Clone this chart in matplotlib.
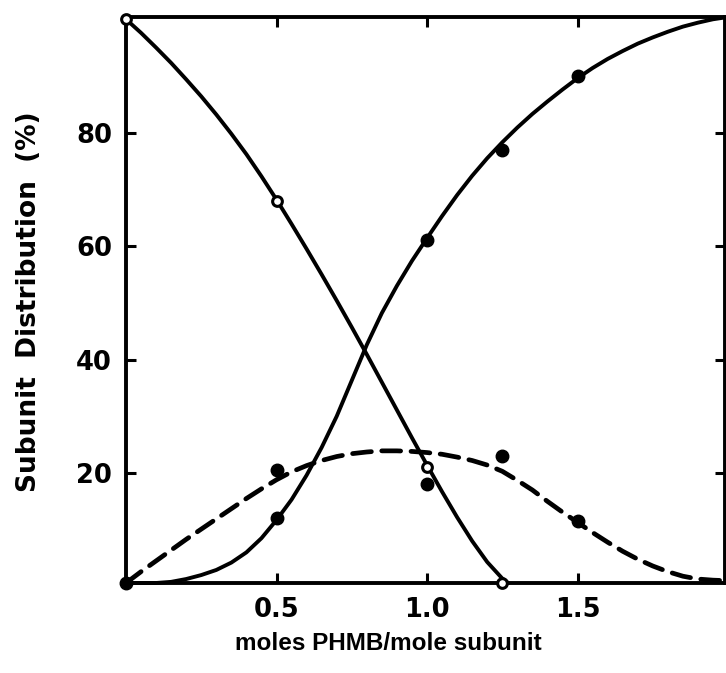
import matplotlib
matplotlib.use("Agg")
import matplotlib.pyplot as plt
from matplotlib import font_manager

# measured points
a_x = [0.0, 0.5, 1.0, 1.25]
a_y = [100.0, 68.0, 21.0, 0.6]
b_x = [0.0, 0.5, 1.0, 1.25, 1.5]
b_y = [0.6, 12.0, 61.0, 77.0, 90.0]
c_x = [0.5, 1.0, 1.25, 1.5]
c_y = [20.5, 18.0, 23.0, 11.5]

# fitted curves
ca_x = [0.0, 0.05, 0.1, 0.15, 0.2, 0.25, 0.3, 0.35, 0.4, 0.45, 0.5, 0.55, 0.6, 0.65,
        0.7, 0.75, 0.8, 0.85, 0.9, 0.95, 1.0, 1.05, 1.1, 1.15, 1.2, 1.25, 1.27]
ca_y = [100.0, 97.6, 95.0, 92.3, 89.4, 86.4, 83.2, 79.8, 76.2, 72.3, 68.2, 63.9, 59.5, 55.0,
        50.4, 45.7, 40.9, 36.0, 31.1, 26.2, 21.4, 16.7, 12.2, 8.0, 4.3, 1.4, 0.6]
cb_x = [0.0, 0.1, 0.15, 0.2, 0.25, 0.3, 0.35, 0.4, 0.45, 0.5, 0.55, 0.6, 0.65, 0.7, 0.75,
        0.8, 0.85, 0.9, 0.95, 1.0, 1.05, 1.1, 1.15, 1.2, 1.25, 1.3, 1.35, 1.4, 1.45, 1.5,
        1.55, 1.6, 1.65, 1.7, 1.75, 1.8, 1.85, 1.9, 1.95, 2.0]
cb_y = [0.6, 0.6, 0.8, 1.3, 2.0, 2.9, 4.2, 6.0, 8.5, 11.7, 15.3, 19.6, 24.5, 30.0, 36.3,
        42.6, 48.2, 53.0, 57.4, 61.4, 65.3, 69.0, 72.4, 75.5, 78.3, 80.9, 83.3, 85.5, 87.6, 89.6,
        91.4, 93.0, 94.4, 95.7, 96.8, 97.8, 98.7, 99.4, 100.0, 100.4]
cc_x = [0.0, 0.05, 0.1, 0.15, 0.2, 0.25, 0.3, 0.35, 0.4, 0.45, 0.5, 0.55, 0.6, 0.65, 0.7,
        0.75, 0.8, 0.85, 0.9, 0.95, 1.0, 1.05, 1.1, 1.15, 1.2, 1.25, 1.3, 1.35, 1.4, 1.45,
        1.5, 1.55, 1.6, 1.65, 1.7, 1.75, 1.8, 1.85, 1.9, 1.95, 2.0]
cc_y = [0.6, 2.6, 4.5, 6.4, 8.3, 10.1, 11.9, 13.7, 15.5, 17.2, 18.8, 20.2, 21.3, 22.2, 22.9,
        23.4, 23.7, 23.9, 23.9, 23.8, 23.6, 23.3, 22.8, 22.2, 21.4, 20.3, 18.7, 17.0, 15.0, 13.1,
        11.3, 9.5, 7.8, 6.2, 4.8, 3.6, 2.6, 1.8, 1.3, 1.1, 1.0]

xticks = [0.5, 1.0, 1.5]
xticklabels = ["0.5", "1.0", "1.5"]
yticks = [20, 40, 60, 80]
yticklabels = ["20", "40", "60", "80"]

names = {f.name for f in font_manager.fontManager.ttflist}
if 'Liberation Sans Narrow' in names:
    xl_family, xl_size = ['Liberation Sans Narrow', 'DejaVu Sans'], 21
else:
    xl_family, xl_size = ['Liberation Sans', 'DejaVu Sans'], 17.5

plt.rcParams['font.family'] = ['DejaVu Sans']
fig = plt.figure(figsize=(7.26, 6.73), dpi=100)
ax = fig.add_axes([126/726, 90/673, 599/726, 566/673])

ax.plot(ca_x, ca_y, color='black', lw=2.8, solid_capstyle='round', solid_joinstyle='round', clip_on=False)
ax.plot(cb_x, cb_y, color='black', lw=2.8, solid_capstyle='round', solid_joinstyle='round', clip_on=False)
ax.plot(cc_x, cc_y, color='black', lw=3.4, ls=(0, (4, 2.2)), dash_capstyle='round', clip_on=False)

ax.plot(a_x, a_y, 'o', ms=7, mfc='white', mec='black', mew=2.2, ls='none', clip_on=False, zorder=5)
ax.plot(b_x, b_y, 'o', ms=9, color='black', ls='none', clip_on=False, zorder=5)
ax.plot(c_x, c_y, 'o', ms=9, color='black', ls='none', clip_on=False, zorder=5)

ax.set_xlim(0, 1.99)
ax.set_ylim(0.6, 100.4)
ax.set_xticks(xticks)
ax.set_xticklabels(xticklabels)
ax.set_yticks(yticks)
ax.set_yticklabels(yticklabels)
for s in ax.spines.values():
    s.set_linewidth(2.8)
ax.tick_params(direction='in', length=7, width=2.2, top=True, right=True,
               labelsize=18.5, pad=10)
for lab in ax.get_xticklabels() + ax.get_yticklabels():
    lab.set_fontweight('bold')

ax.set_xlabel("moles PHMB/mole subunit", fontsize=xl_size, fontweight='bold',
              family=xl_family)
ax.set_ylabel("Subunit  Distribution  (%)", fontsize=19, fontweight='bold',
              family=['DejaVu Sans'])
ax.xaxis.set_label_coords((388 - 126) / 599, (583 - 644) / 566)
ax.yaxis.set_label_coords((29 - 126) / 599, (583 - 302) / 566)
ax.xaxis.label.set_va('center')
ax.yaxis.label.set_va('center')

fig.savefig("out.png", dpi=100)
